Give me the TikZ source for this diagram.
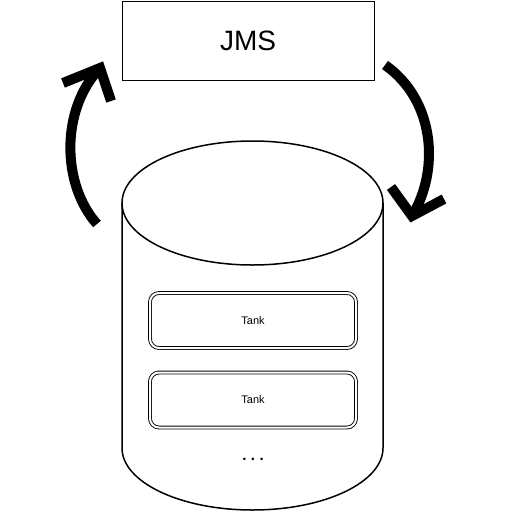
\documentclass[tikz,border=0pt]{standalone}
\usepackage{fontspec}
\setmainfont{Liberation Sans}
\begin{document}
\begin{tikzpicture}[x=1pt,y=-1pt,
  box/.style={draw=black,line width=1pt,minimum width=252pt,minimum height=79pt,inner sep=0pt,font=\fontsize{28}{32}\selectfont},
  tankbox/.style={draw=black,line width=0.9pt,double=white,double distance=2pt,rounded corners=9pt,minimum width=206pt,minimum height=55pt,inner sep=0pt,font=\fontsize{11}{13}\selectfont},
  bigarrow/.style={line width=10pt},
  cyl/.style={draw=black,line width=1.5pt}]
\useasboundingbox (0,0) rectangle (505,512);
% JMS box
\node[box] (jms) at (248,40.5) {JMS};
% cylinder
\coordinate (tl) at (122,203);
\coordinate (tr) at (383,203);
\draw[cyl,fill=white] (tl) -- (122,448) arc[start angle=180,end angle=360,x radius=130.5,y radius=-62] -- (tr);
\draw[cyl] (252.5,203) ellipse[x radius=130.5,y radius=62];
% tanks
\node[tankbox] (t1) at (253,320.5) {Tank};
\node[tankbox] (t2) at (253,400) {Tank};
\node[font=\fontsize{15}{17}\selectfont\bfseries,anchor=base,inner sep=0pt] (dots) at (253,460) {.\kern4.5pt.\kern4.5pt.};
% left arrow
\coordinate (ls) at (97,224);
\coordinate (le) at (100,68);
\draw[bigarrow] (ls) .. controls (62,185) and (60,110) .. (le);
\draw[bigarrow,line join=miter] (63,83) -- (le) -- (111,101);
% right arrow
\coordinate (rs) at (385,65);
\coordinate (re) at (412,216);
\draw[bigarrow] (rs) .. controls (435,100) and (440,170) .. (re);
\draw[bigarrow,line join=miter] (391,187) -- (re) -- (444,199);
\end{tikzpicture}
\end{document}
